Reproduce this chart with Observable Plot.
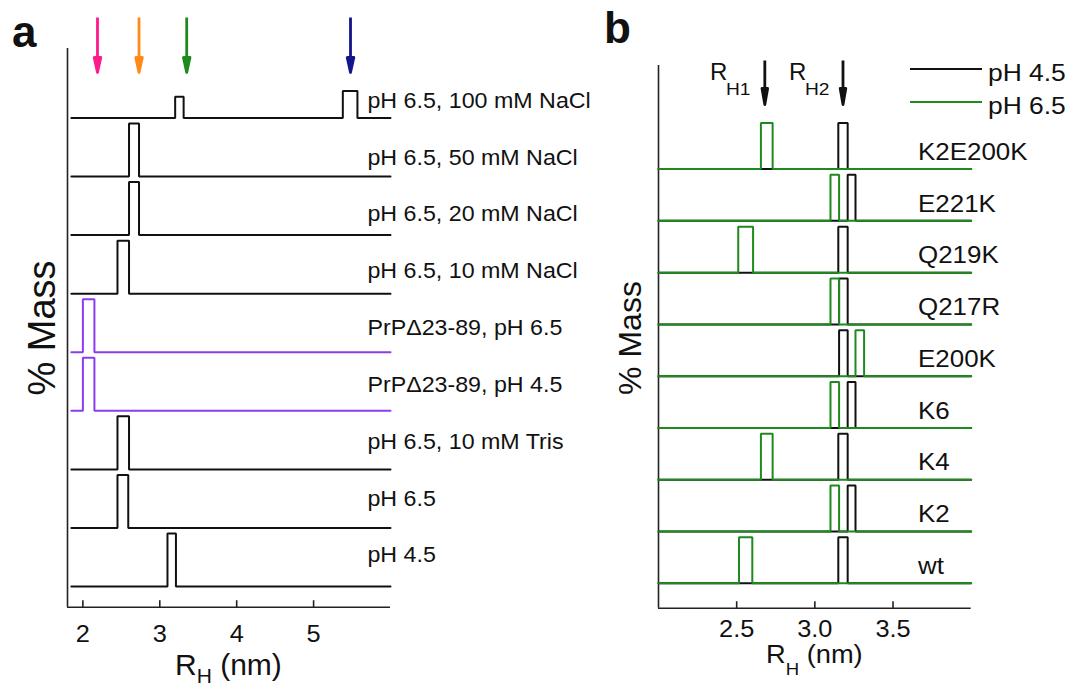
<!DOCTYPE html>
<html><head><meta charset="utf-8">
<script src="https://cdn.jsdelivr.net/npm/d3@7"></script>
<script src="https://cdn.jsdelivr.net/npm/@observablehq/plot@0.6"></script>
<style>
html,body{margin:0;padding:0;background:#fff;}
#wrap{position:relative;width:1084px;height:686px;overflow:hidden;background:#fff;}
#wrap > svg{position:absolute;top:0;}
</style></head><body><div id="wrap"></div>
<script>
// ---------- Panel a data (bottom trace first) ----------
const samplesA = ["pH 4.5","pH 6.5","pH 6.5, 10 mM Tris","PrPΔ23-89, pH 4.5","PrPΔ23-89, pH 6.5","pH 6.5, 10 mM NaCl","pH 6.5, 20 mM NaCl","pH 6.5, 50 mM NaCl","pH 6.5, 100 mM NaCl"];
const proteinA = ["full","full","full","PrPΔ23-89","PrPΔ23-89","full","full","full","full"];
const peakStartA = [[3.10],[2.45],[2.45],[2.00],[2.00],[2.45],[2.60],[2.60],[3.20,5.38]];
const peakEndA   = [[3.21],[2.59],[2.60],[2.15],[2.15],[2.60],[2.73],[2.73],[3.31,5.57]];
const peakMassA  = [[100],[100],[100],[100],[100],[100],[100],[100],[40,51]];
const rangeA = [1.85, 6.0];
const arrowRH = [2.19, 2.73, 3.35, 5.48];
const arrowColors = ["#ff1a8c","#ff8a1a","#1e8a1e","#14148c"];
const ticksA = [2,3,4,5];

// ---------- Panel b data (bottom trace first) ----------
const samplesB = ["wt","K2","K4","K6","E200K","Q217R","Q219K","E221K","K2E200K"];
const pH45Start = [3.15,3.21,3.15,3.21,3.155,3.155,3.15,3.21,3.15];
const pH45End   = [3.21,3.26,3.21,3.26,3.21,3.21,3.21,3.26,3.21];
const pH65Start = [2.515,3.10,2.655,3.10,3.26,3.10,2.51,3.10,2.655];
const pH65End   = [2.60,3.155,2.73,3.155,3.315,3.155,2.605,3.155,2.73];
const massB = 100;
const rangeB = [2.0, 4.0];
const arrowRHB = [2.68, 3.18];
const ticksB = [2.5, 3.0, 3.5];
const seriesB = ["pH 4.5","pH 6.5"];

// ---------- styling ----------
const FONT = '"Liberation Sans", Arial, Helvetica, sans-serif';
const BLACK = "#111";
const PURPLE = "#8c3cf0";
const GREEN = "#1e8a1e";
const stepA = 110.5, stepB = 112.6;

function pulseTrace(range, starts, ends, masses, base, id, color) {
  const pts = [{x: range[0], y: base, trace: id, color}];
  starts.forEach((s, k) => {
    const e = ends[k], m = masses[k];
    pts.push({x: s, y: base, trace: id, color}, {x: s, y: base + m, trace: id, color},
             {x: e, y: base + m, trace: id, color}, {x: e, y: base, trace: id, color});
  });
  pts.push({x: range[1], y: base, trace: id, color});
  return pts;
}

const rowsA = samplesA.flatMap((s, i) =>
  pulseTrace(rangeA, peakStartA[i], peakEndA[i], peakMassA[i], i * stepA, "a" + i,
             proteinA[i] === "full" ? BLACK : PURPLE));

const rowsB45 = samplesB.flatMap((s, i) =>
  pulseTrace(rangeB, [pH45Start[i]], [pH45End[i]], [massB], i * stepB, "b45-" + i, BLACK));
const rowsB65 = samplesB.flatMap((s, i) =>
  pulseTrace(rangeB, [pH65Start[i]], [pH65End[i]], [massB], i * stepB, "b65-" + i, GREEN));

const tickSymbol = {draw(ctx) { ctx.moveTo(0, 0); ctx.lineTo(0, -7); }};
function arrowDown(len, headLen, half) {
  return {draw(ctx) {
    ctx.moveTo(0, -len); ctx.lineTo(0, -headLen + 1);
    ctx.moveTo(0, -1); ctx.lineTo(-half, -headLen); ctx.lineTo(half, -headLen); ctx.closePath();
  }};
}

const plotA = Plot.plot({
  width: 620, height: 686,
  marginLeft: 67, marginRight: 230, marginTop: 48, marginBottom: 79.3,
  x: {domain: [1.8, 6.0]},
  y: {domain: [-39, 1015], axis: null},
  color: {type: "identity"},
  style: {fontFamily: FONT, fontSize: "22px", color: BLACK, background: "transparent", overflow: "visible"},
  marks: [
    Plot.ruleX([1.8], {stroke: "#222", strokeWidth: 1.6}),
    Plot.ruleY([-39], {stroke: "#222", strokeWidth: 1.6}),
    Plot.dot(ticksA, {x: d => d, frameAnchor: "bottom", symbol: tickSymbol, stroke: "#222", strokeWidth: 1.6, fill: "none"}),
    Plot.axisX({ticks: ticksA, tickSize: 0, tickPadding: 18, label: null, tickFormat: d => String(d), fontSize: 23}),
    Plot.line(rowsA, {x: "x", y: "y", z: "trace", stroke: "color", strokeWidth: 2, strokeLinejoin: "miter", curve: "linear"}),
    // labels sit a little higher above the lower traces, as in the figure
    Plot.text(samplesA, {x: 5.7, y: (d, i) => i * stepA + 58.5 - 3.3 * i, text: d => d, textAnchor: "start", fontSize: 21.5, fill: BLACK}),
    Plot.dot(arrowRH, {x: d => d, frameAnchor: "top", dy: 25, symbol: arrowDown(56, 16, 3.3),
      fill: (d, i) => arrowColors[i], stroke: (d, i) => arrowColors[i], strokeWidth: 2.8, strokeLinejoin: "round"})
  ]
});

const plotB = Plot.plot({
  width: 484, height: 686,
  marginLeft: 58, marginRight: 113.3, marginTop: 65, marginBottom: 78.3,
  x: {domain: [2.0, 4.0]},
  y: {domain: [-54, 1126], axis: null},
  color: {type: "identity"},
  style: {fontFamily: FONT, fontSize: "22px", color: BLACK, background: "transparent", overflow: "visible"},
  marks: [
    Plot.ruleX([2.0], {stroke: "#222", strokeWidth: 1.6}),
    Plot.ruleY([-54], {stroke: "#222", strokeWidth: 1.6}),
    Plot.dot(ticksB, {x: d => d, frameAnchor: "bottom", symbol: tickSymbol, stroke: "#222", strokeWidth: 1.6, fill: "none"}),
    Plot.axisX({ticks: ticksB, tickSize: 0, tickPadding: 12, label: null, tickFormat: d3.format(".1f"), fontSize: 23}),
    Plot.line(rowsB45, {x: "x", y: "y", z: "trace", stroke: "color", strokeWidth: 2, strokeLinejoin: "miter"}),
    Plot.line(rowsB65, {x: "x", y: "y", z: "trace", stroke: "color", strokeWidth: 2, strokeLinejoin: "miter"}),
    Plot.text(samplesB, {x: 3.66, y: (d, i) => i * stepB, text: d => d, textAnchor: "start", dy: -17, fontSize: 24, fill: BLACK}),
    Plot.dot(arrowRHB, {x: d => d, frameAnchor: "top", dy: 40, symbol: arrowDown(45, 17, 2.8),
      fill: BLACK, stroke: BLACK, strokeWidth: 2.8, strokeLinejoin: "round"})
  ]
});

const wrap = document.getElementById("wrap");
plotA.style.left = "0px";
plotB.style.left = "600px";
wrap.appendChild(plotA);
wrap.appendChild(plotB);

function stretch(el, f) {
  const L = el.getComputedTextLength();
  if (L > 0) { el.setAttribute("textLength", (L * f).toFixed(1)); el.setAttribute("lengthAdjust", "spacingAndGlyphs"); }
}
[plotA, plotB].forEach(svg => {
  svg.querySelectorAll('g[aria-label="text"] text').forEach(t => stretch(t, 1.08));
  svg.querySelectorAll('g[aria-label="x-axis tick label"] text').forEach(t => stretch(t, 1.1));
});

// ---------- overlay: panel letters, axis titles, annotations, legend ----------
const ov = d3.select(wrap).append("svg")
  .attr("width", 1084).attr("height", 686)
  .style("left", "0px").style("position", "absolute").style("top", "0px")
  .attr("font-family", FONT).attr("fill", BLACK);

ov.append("text").attr("x", 12).attr("y", 47).attr("font-size", 44).attr("font-weight", "bold").text("a");
ov.append("text").attr("x", 604).attr("y", 43).attr("font-size", 44).attr("font-weight", "bold").text("b");

ov.append("text").attr("transform", "translate(55,328) rotate(-90)").attr("text-anchor", "middle")
  .attr("font-size", 38).text("% Mass");
ov.append("text").attr("transform", "translate(641,338) rotate(-90)").attr("text-anchor", "middle")
  .attr("font-size", 32).text("% Mass");

function rhTitle(x, y, big, small, shift) {
  const t = ov.append("text").attr("x", x).attr("y", y).attr("font-size", big);
  t.append("tspan").text("R");
  t.append("tspan").attr("font-size", small).attr("dy", shift).text("H");
  t.append("tspan").attr("dy", -shift).text(" (nm)");
  return t;
}
rhTitle(175, 675, 30, 21, 8);
const tb = rhTitle(766, 663, 25, 17, 12);
stretch(tb.node(), 1.09);

function rhLabel(x, y, sub) {
  ov.append("text").attr("x", x).attr("y", y).attr("font-size", 24).text("R");
  const s = ov.append("text").attr("x", x + 16).attr("y", y + 15).attr("font-size", 16).text(sub);
  stretch(s.node(), 1.2);
}
rhLabel(710, 80, "H1");
rhLabel(789, 80, "H2");

const legendColors = [BLACK, GREEN];
seriesB.forEach((s, i) => {
  const y = 69 + i * 33;
  ov.append("line").attr("x1", 910).attr("x2", 982).attr("y1", y).attr("y2", y)
    .attr("stroke", legendColors[i]).attr("stroke-width", 2);
  const t = ov.append("text").attr("x", 988).attr("y", y + 12).attr("font-size", 24).text(s);
  stretch(t.node(), 1.1);
});
</script></body></html>
